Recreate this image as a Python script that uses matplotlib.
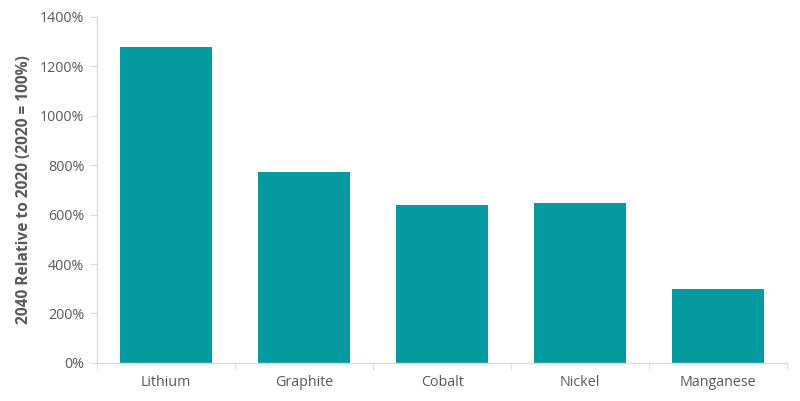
import numpy as np
import matplotlib.pyplot as plt
from matplotlib.ticker import FixedLocator, FuncFormatter

plt.rcParams['font.family'] = ['Open Sans', 'DejaVu Sans']

minerals = ["Lithium", "Graphite", "Cobalt", "Nickel", "Manganese"]
relative = [1278, 773, 639, 647, 299]  # 2040 relative to 2020, %

grey = "#d9d9d9"
text_grey = "#595959"

fig = plt.figure(figsize=(8, 4.01), dpi=100)
ax = fig.add_axes([0.121, 0.095, 0.863, 0.863])

x = np.arange(len(minerals))
ax.bar(x, relative, width=0.67, color="#049aa0")

ax.set_xlim(-0.5, len(minerals) - 0.5)
ax.set_ylim(0, 1400)
ax.set_yticks(np.arange(0, 1401, 200))
ax.yaxis.set_major_formatter(FuncFormatter(lambda v, p: f"{int(v)}%"))
ax.set_xticks(x)
ax.set_xticklabels(minerals)
ax.xaxis.set_minor_locator(FixedLocator(np.arange(-0.5, len(minerals), 1)))

for s in ["top", "right"]:
    ax.spines[s].set_visible(False)
for s in ["left", "bottom"]:
    ax.spines[s].set_color(grey)
    ax.spines[s].set_linewidth(1)

ax.tick_params(axis="x", which="major", length=0, pad=9, labelsize=10.3, labelcolor=text_grey)
ax.tick_params(axis="x", which="minor", length=5, color=grey)
ax.tick_params(axis="y", length=5, color=grey, labelsize=10.3, labelcolor=text_grey, pad=4)

ax.set_ylabel("2040 Relative to 2020 (2020 = 100%)", fontsize=11.2, fontweight="bold",
              color=text_grey, labelpad=6)

fig.savefig("out.png", dpi=100)
